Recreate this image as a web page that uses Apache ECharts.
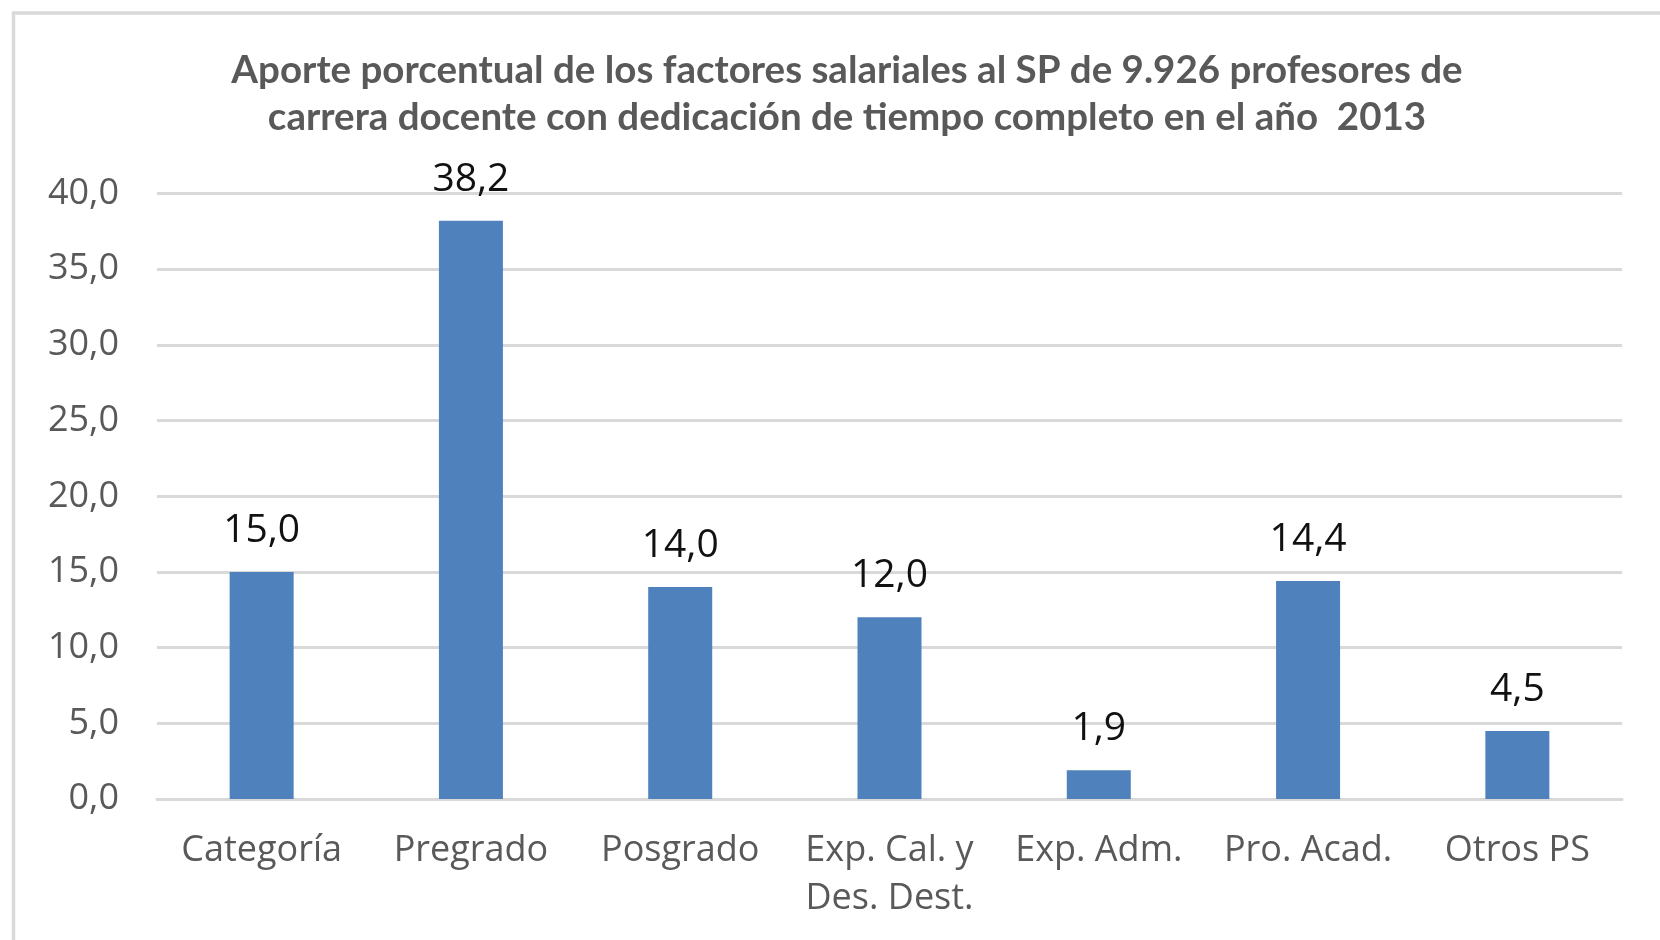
<!DOCTYPE html>
<html>
<head>
<meta charset="utf-8">
<title>Aporte porcentual de los factores salariales</title>
<script src="https://cdn.jsdelivr.net/npm/echarts@6/dist/echarts.min.js"></script>
<style>
  html, body { margin: 0; padding: 0; background: #ffffff; }
  #chart { width: 1660px; height: 940px; }
</style>
</head>
<body>
<div id="chart"></div>
<script>
// datos del gráfico
var categorias = ['Categoría', 'Pregrado', 'Posgrado', 'Exp. Cal. y\nDes. Dest.', 'Exp. Adm.', 'Pro. Acad.', 'Otros PS'];
var aporte = [15.0, 38.2, 14.0, 12.0, 1.9, 14.4, 4.5];
var tituloLineas = [
  'Aporte porcentual de los factores salariales al SP de 9.926 profesores de',
  'carrera docente con dedicación de tiempo completo en el año  2013'
];

function coma(v, dec) {
  return Number(v).toFixed(dec).replace('.', ',');
}

var chart = echarts.init(document.getElementById('chart'));

var option = {
  backgroundColor: '#ffffff',
  animation: false,
  title: {
    text: tituloLineas.join('\n'),
    left: 842,
    textAlign: 'center',
    top: 42,
    textStyle: {
      fontFamily: 'Lato',
      fontWeight: 'bold',
      fontSize: 38.5,
      lineHeight: 47,
      color: '#595959'
    }
  },
  // marco exterior del gráfico (solo se ven arriba e izquierda)
  graphic: [
    {
      type: 'rect',
      shape: { x: 13.5, y: 13, width: 1700, height: 1000 },
      style: { fill: 'none', stroke: '#d9d9d9', lineWidth: 3.5 },
      silent: true
    }
  ],
  grid: {
    left: 157,
    right: 38,
    top: 193.5,
    bottom: 141
  },
  xAxis: {
    type: 'category',
    data: categorias,
    axisLine: { show: true, lineStyle: { color: '#d9d9d9', width: 3 } },
    axisTick: { show: false },
    axisLabel: {
      interval: 0,
      margin: 28,
      fontFamily: 'Open Sans',
      fontSize: 36,
      lineHeight: 48,
      color: '#595959'
    }
  },
  yAxis: {
    type: 'value',
    min: 0,
    max: 40,
    interval: 5,
    axisLine: { show: false },
    axisTick: { show: false },
    splitLine: { lineStyle: { color: '#d9d9d9', width: 3 } },
    axisLabel: {
      margin: 38,
      fontFamily: 'Open Sans',
      fontSize: 36,
      color: '#595959',
      formatter: function (v) { return coma(v, 1); }
    }
  },
  series: [
    {
      type: 'bar',
      data: aporte,
      barWidth: 64,
      itemStyle: { color: '#4f81bd' },
      label: {
        show: true,
        position: 'top',
        distance: 21,
        fontFamily: 'Open Sans',
        fontSize: 39,
        lineHeight: 40,
        color: '#111111',
        formatter: function (p) { return coma(p.value, 1); }
      }
    }
  ]
};

chart.setOption(option);
</script>
</body>
</html>
